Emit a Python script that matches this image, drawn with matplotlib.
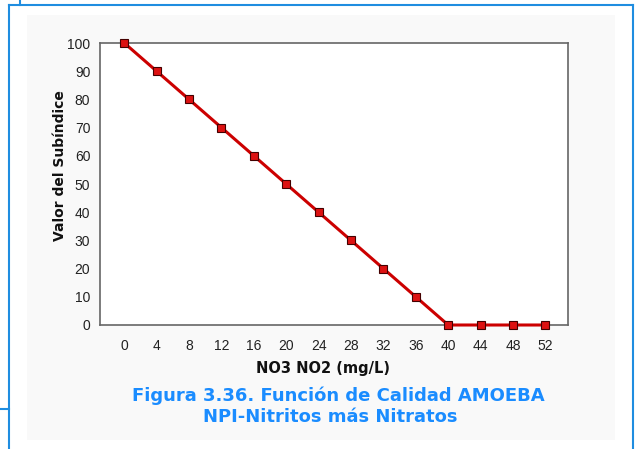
import matplotlib.pyplot as plt
from matplotlib.patches import Rectangle
from matplotlib.lines import Line2D

# NO3 NO2 (mg/L) vs valor del subindice
no3_no2 = [0, 4, 8, 12, 16, 20, 24, 28, 32, 36, 40, 44, 48, 52]
subindice = [100, 90, 80, 70, 60, 50, 40, 30, 20, 10, 0, 0, 0, 0]
yticks = [0, 10, 20, 30, 40, 50, 60, 70, 80, 90, 100]

W, H = 636, 449
fig = plt.figure(figsize=(W / 100, H / 100), dpi=100)
fig.patch.set_facecolor('white')

# fondo gris claro y marco azul
fig.patches.append(Rectangle((27 / W, 1 - 440 / H), 588 / W, 425 / H,
                             transform=fig.transFigure, facecolor='#f9f9f9',
                             edgecolor='none', zorder=-5))
blue = '#1f8de0'
for xs, ys in [([9, 633], [5, 5]), ([9, 9], [5, 449]), ([633, 633], [5, 449]),
               ([20, 20], [0, 5]), ([0, 9], [409, 409])]:
    fig.lines.append(Line2D([x / W for x in xs], [1 - y / H for y in ys],
                            transform=fig.transFigure, color=blue, lw=1.5))

ax = fig.add_axes([100 / W, 1 - 325 / H, 468 / W, 282 / H])
ax.set_facecolor('white')
ax.plot(no3_no2, subindice, color='#cc0000', lw=2.2, marker='s', ms=5.5,
        mfc='#dd1111', mec='#440000', mew=0.8, clip_on=False, zorder=3)
ax.set_xlim(-3, 54.8)
ax.set_ylim(0, 100)
ax.set_xticks(no3_no2)
ax.set_yticks(yticks)
ax.tick_params(length=0, labelsize=10, colors='#222222', pad=7)
ax.tick_params(axis='x', pad=10)
for lbl in ax.get_xticklabels() + ax.get_yticklabels():
    lbl.set_fontfamily('Liberation Sans')
for s in ax.spines.values():
    s.set_color('#666666')
    s.set_linewidth(1.2)

fig.text(323 / W, 1 - 368 / H, 'NO3 NO2 (mg/L)', ha='center', va='center',
         fontsize=10.5, fontweight='bold', color='#111111')
fig.text(60 / W, 1 - 166 / H, 'Valor del Subíndice', ha='center', va='center',
         rotation=90, fontsize=10, fontweight='bold', color='#111111')

fig.text(338 / W, 1 - 396 / H, 'Figura 3.36. Función de Calidad AMOEBA',
         ha='center', va='center', color='#1a8cff', fontsize=13, fontweight='bold')
fig.text(330 / W, 1 - 417 / H, 'NPI-Nitritos más Nitratos',
         ha='center', va='center', color='#1a8cff', fontsize=13, fontweight='bold')

fig.savefig('out.png', dpi=100)
